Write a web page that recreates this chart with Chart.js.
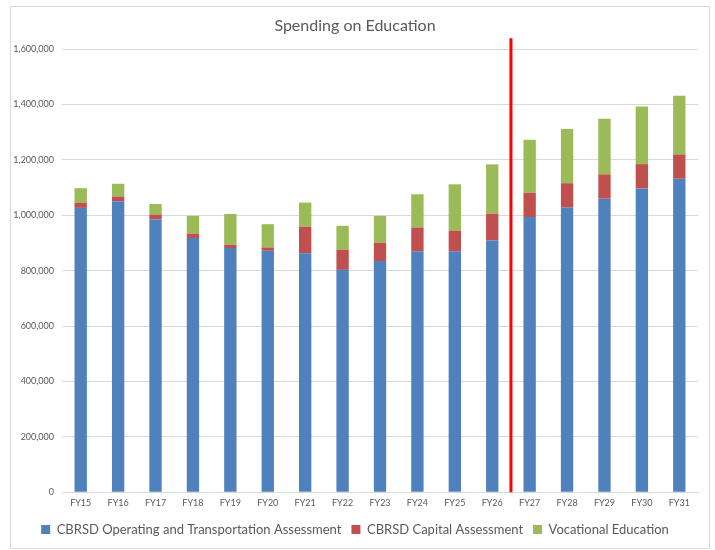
<!DOCTYPE html>
<html>
<head>
<meta charset="utf-8">
<script src="https://cdn.jsdelivr.net/npm/chart.js@4/dist/chart.umd.min.js"></script>
<style>
body{margin:0;background:#fff;}
#wrap{position:relative;width:715px;height:550px;}
</style>
</head>
<body>
<div id="wrap"><canvas id="chart" width="715" height="550"></canvas></div>
<script>
var years=["FY15","FY16","FY17","FY18","FY19","FY20","FY21","FY22","FY23","FY24","FY25","FY26","FY27","FY28","FY29","FY30","FY31"];
var operating=[1027000,1051000,985000,918000,882000,872000,863000,803000,835000,869000,870000,909000,994000,1028000,1060000,1097000,1132000];
var capital=[19000,17000,18000,16000,12000,12000,96000,72000,66000,87000,75000,97000,87000,88000,88000,88000,88000];
var vocational=[52000,46000,38000,64000,111000,84000,87000,87000,97000,120000,167000,178000,192000,196000,201000,208000,212000];
var yTicks=[0,200000,400000,600000,800000,1000000,1200000,1400000,1600000];
// projection marker sits between FY26 and FY27
var forecastAfter=11;
var markerTop=1640000;

var grey="#595959";

// light frame round the whole chart
var frame={
    id:"frame",
    beforeDraw:function(chart){
        var ctx=chart.ctx;
        ctx.save();
        ctx.fillStyle="#fff";
        ctx.fillRect(0,0,chart.width,chart.height);
        ctx.strokeStyle="#d9d9d9";
        ctx.lineWidth=1;
        ctx.strokeRect(10.5,6.5,699,542);
        ctx.restore();
    }
};

// red vertical line
var forecastLine={
    id:"forecastLine",
    afterDatasetsDraw:function(chart){
        var x=chart.scales.x;
        var y=chart.scales.y;
        var px=(x.getPixelForValue(forecastAfter)+x.getPixelForValue(forecastAfter+1))/2;
        var ctx=chart.ctx;
        ctx.save();
        ctx.strokeStyle="#ff0000";
        ctx.lineWidth=3;
        ctx.beginPath();
        ctx.moveTo(px,y.getPixelForValue(markerTop));
        ctx.lineTo(px,y.getPixelForValue(0));
        ctx.stroke();
        ctx.restore();
    }
};

var mychart=new Chart(document.getElementById("chart"),{
    type:"bar",
    data:{
        labels:years,
        datasets:[
            {label:"CBRSD Operating and Transportation Assessment",data:operating,backgroundColor:"#4f81bd"},
            {label:"CBRSD Capital Assessment",data:capital,backgroundColor:"#c0504d"},
            {label:"Vocational Education",data:vocational,backgroundColor:"#9bbb59"}
        ]
    },
    plugins:[frame,forecastLine],
    options:{
        responsive:false,
        animation:false,
        clip:false,
        datasets:{bar:{categoryPercentage:1,barPercentage:0.33}},
        layout:{padding:{left:12,right:17,top:10,bottom:4}},
        plugins:{
            title:{
                display:true,
                text:"Spending on Education",
                color:grey,
                font:{family:"Lato",size:16,weight:"normal"},
                padding:{top:6,bottom:14}
            },
            legend:{
                position:"bottom",
                labels:{
                    color:grey,
                    font:{family:"Lato",size:13},
                    boxWidth:9,
                    boxHeight:9,
                    padding:10
                }
            },
            tooltip:{enabled:false}
        },
        scales:{
            x:{
                stacked:true,
                grid:{display:false,drawTicks:false},
                border:{color:"#d9d9d9"},
                ticks:{color:grey,font:{family:"Lato",size:9},padding:5,maxRotation:0}
            },
            y:{
                stacked:true,
                min:0,
                max:1600000,
                afterBuildTicks:function(axis){axis.ticks=yTicks.map(function(v){return {value:v};});},
                afterFit:function(axis){axis.width=50;},
                grid:{color:"#d9d9d9",drawTicks:false},
                border:{display:false},
                ticks:{
                    color:grey,
                    font:{family:"Lato",size:9},
                    padding:8,
                    callback:function(v){return v.toLocaleString("en-US");}
                }
            }
        }
    }
});
</script>
</body>
</html>
